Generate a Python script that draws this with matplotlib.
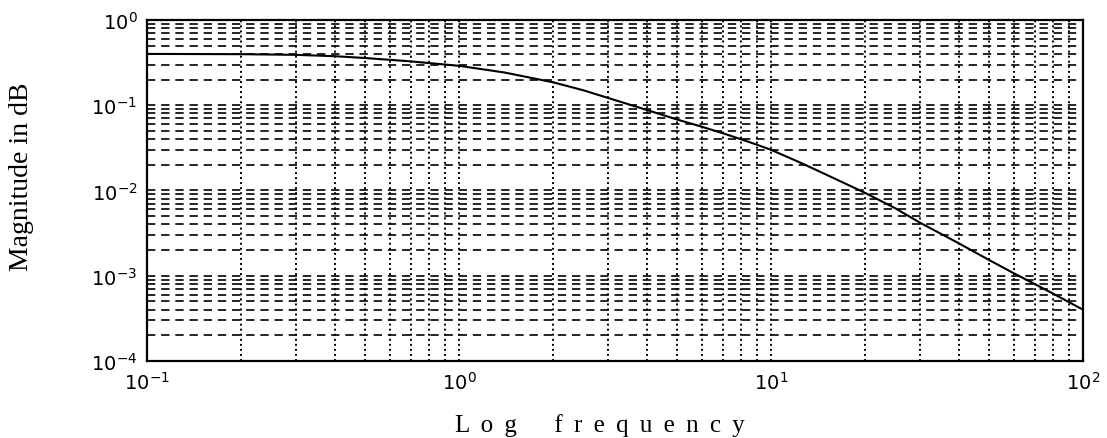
import matplotlib.pyplot as plt
import numpy as np

# values
freq = [0.1, 0.2, 0.3, 0.4, 0.5, 0.7, 1.0, 1.4, 2.0, 2.5, 3.0, 4.0, 5.0, 6.0, 7.0,
        8.0, 9.0, 10, 12.5, 15, 20, 25, 30, 40, 50, 60, 70, 80, 100]
mag = [0.400, 0.397, 0.390, 0.376, 0.358, 0.327, 0.290, 0.242, 0.186, 0.150, 0.122,
       0.088, 0.068, 0.056, 0.047, 0.040, 0.0345, 0.030, 0.021, 0.0154, 0.0094,
       0.0062, 0.0042, 0.0024, 0.00153, 0.00107, 0.00080, 0.00062, 0.00040]

fig = plt.figure(figsize=(11.07, 4.39), dpi=100)
ax = fig.add_axes([0.1328, 0.1754, 0.8455, 0.7768])

ax.loglog(freq, mag, color='k', lw=1.5)
ax.set_xlim(0.1, 100)
ax.set_ylim(1e-4, 1)

ax.grid(True, which='both', axis='y', color='k', ls=(0, (5, 3.5)), lw=1.2)
ax.grid(True, which='both', axis='x', color='k', ls=(0, (1, 1.6)), lw=1.4)

for s in ax.spines.values():
    s.set_linewidth(1.6)
ax.tick_params(which='both', length=0, labelsize=14, pad=7)
for lab in ax.get_xticklabels() + ax.get_yticklabels():
    lab.set_family('DejaVu Sans')

fig.text(600 / 1107, 1 - 432 / 439,
         'L \u2009o \u2009g      f \u2009r \u2009e \u2009q \u2009u \u2009e \u2009n \u2009c \u2009y',
         family='Liberation Serif', fontsize=18, ha='center', va='baseline')
fig.text(22 / 1107, 1 - 177 / 439, 'Magnitude in dB', family='Liberation Serif',
         fontsize=20, rotation=90, ha='center', va='center')

fig.savefig('out.png', dpi=100)
